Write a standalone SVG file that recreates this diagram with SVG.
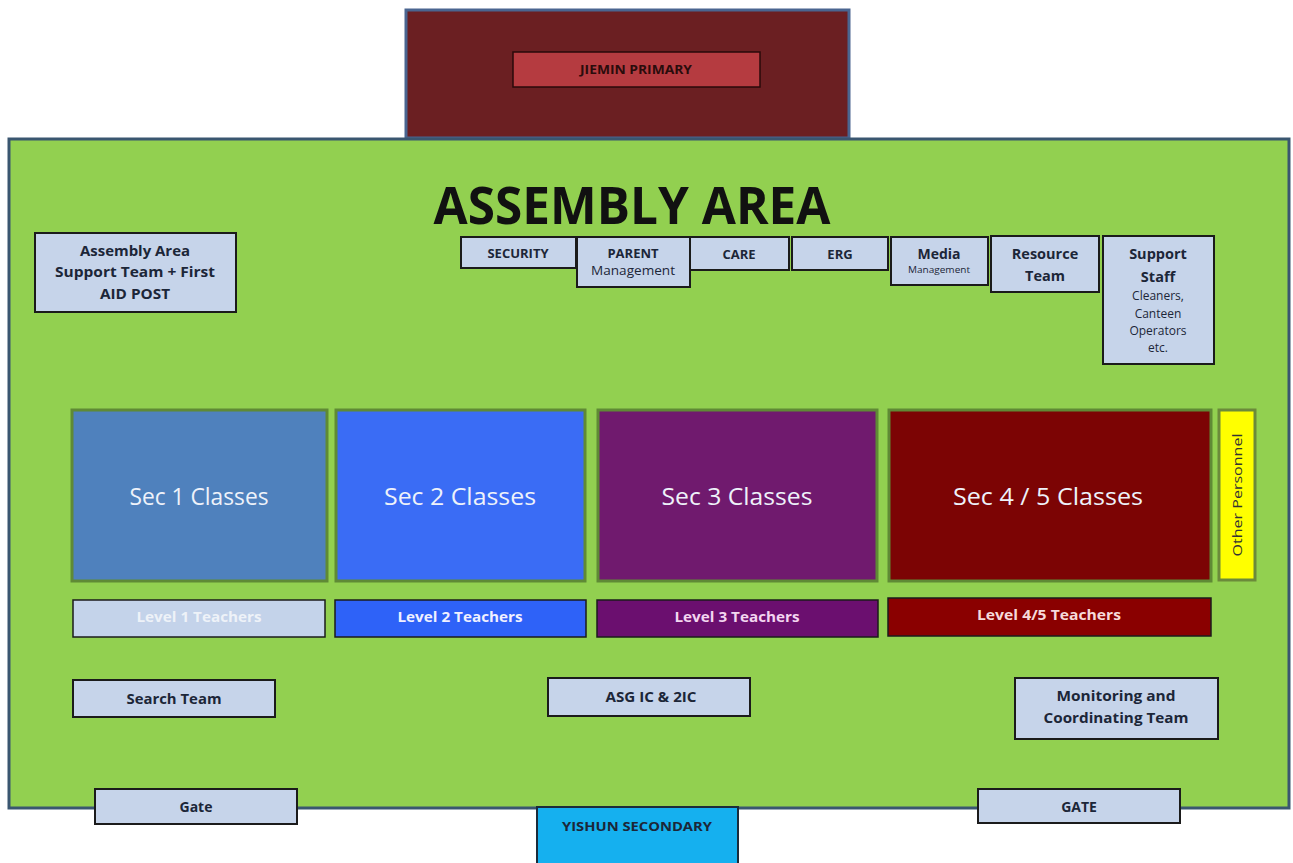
<svg xmlns="http://www.w3.org/2000/svg" width="1293" height="863" viewBox="0 0 1293 863">
<style>
text{font-family:"Open Sans","Noto Sans","Liberation Sans",sans-serif;text-anchor:middle}
.lb{fill:#c6d4ea;stroke:#1b1b1b;stroke-width:2}
.t{fill:#1c2638;font-weight:bold;font-size:13px}
.r{fill:#1c2638;font-size:11px}
.cls{stroke:#5f8a35;stroke-width:3}
.ct{fill:#eef2fa;font-size:23px}
.lv{stroke:#1b1b1b;stroke-width:1.5}
.lt{font-weight:bold;font-size:14px}
</style>
<rect width="1293" height="863" fill="#ffffff"/>
<g id="jiemin">
<rect x="406" y="10" width="443" height="128" fill="#6b1f22" stroke="#4a6590" stroke-width="3"/>
<rect x="513" y="52" width="247" height="35" fill="#b53b40" stroke="#2a0a0a" stroke-width="1.5"/>
<text x="636" y="74" style="font-weight:bold;font-size:12px;fill:#2a0c0c" textLength="112" lengthAdjust="spacingAndGlyphs">JIEMIN PRIMARY</text>
</g>
<g id="assembly-area">
<rect x="9" y="139" width="1280" height="669" fill="#92d050" stroke="#3a5670" stroke-width="3"/>
<text x="632" y="224" style="font-weight:bold;font-size:52px;fill:#111" textLength="397" lengthAdjust="spacingAndGlyphs">ASSEMBLY AREA</text>
</g>
<g id="support-team">
<rect class="lb" x="35" y="233" width="201" height="79"/>
<text class="t" x="135" y="256" style="font-size:14.5px" textLength="110" lengthAdjust="spacingAndGlyphs">Assembly Area</text>
<text class="t" x="135" y="277" style="font-size:14.5px" textLength="160" lengthAdjust="spacingAndGlyphs">Support Team + First</text>
<text class="t" x="135" y="299" style="font-size:14.5px" textLength="70" lengthAdjust="spacingAndGlyphs">AID POST</text>
</g>
<g id="security">
<rect class="lb" x="461" y="237" width="115" height="31"/>
<text class="t" x="518" y="258">SECURITY</text>
</g>
<g id="parent">
<rect class="lb" x="577" y="237" width="113" height="50"/>
<text class="t" x="633" y="258">PARENT</text>
<text class="r" x="633" y="275" style="font-size:12.5px" textLength="84" lengthAdjust="spacingAndGlyphs">Management</text>
</g>
<g id="care">
<rect class="lb" x="690" y="237" width="99" height="33"/>
<text class="t" x="739" y="259">CARE</text>
</g>
<g id="erg">
<rect class="lb" x="792" y="237" width="96" height="33"/>
<text class="t" x="840" y="259">ERG</text>
</g>
<g id="media">
<rect class="lb" x="891" y="237" width="97" height="48"/>
<text class="t" x="939" y="259" style="font-size:14px">Media</text>
<text class="r" x="939" y="273" style="font-size:9.5px" textLength="62" lengthAdjust="spacingAndGlyphs">Management</text>
</g>
<g id="resource">
<rect class="lb" x="991" y="236" width="108" height="56"/>
<text class="t" x="1045" y="259" style="font-size:14.5px">Resource</text>
<text class="t" x="1045" y="281" style="font-size:14.5px">Team</text>
</g>
<g id="support-staff">
<rect class="lb" x="1103" y="236" width="111" height="128"/>
<text class="t" x="1158" y="259" style="font-size:14.5px">Support</text>
<text class="t" x="1158" y="282" style="font-size:14.5px">Staff</text>
<text class="r" x="1158" y="300" style="font-size:12px">Cleaners,</text>
<text class="r" x="1158" y="318" style="font-size:12px">Canteen</text>
<text class="r" x="1158" y="335" style="font-size:12px">Operators</text>
<text class="r" x="1158" y="352" style="font-size:12px">etc.</text>
</g>
<g id="sec1">
<rect class="cls" x="72" y="410" width="255" height="171" fill="#4f81bd"/>
<text class="ct" x="199" y="505" textLength="139" lengthAdjust="spacingAndGlyphs">Sec 1 Classes</text>
</g>
<g id="sec2">
<rect class="cls" x="336" y="410" width="249" height="171" fill="#3a6cf5"/>
<text class="ct" x="460" y="505" textLength="152" lengthAdjust="spacingAndGlyphs">Sec 2 Classes</text>
</g>
<g id="sec3">
<rect class="cls" x="598" y="410" width="279" height="171" fill="#701a6e"/>
<text class="ct" x="737" y="505" textLength="151" lengthAdjust="spacingAndGlyphs">Sec 3 Classes</text>
</g>
<g id="sec45">
<rect class="cls" x="889" y="410" width="322" height="171" fill="#7c0404"/>
<text class="ct" x="1048" y="505" textLength="190" lengthAdjust="spacingAndGlyphs">Sec 4 / 5 Classes</text>
</g>
<g id="other-personnel">
<rect x="1219" y="410" width="36" height="170" fill="#ffff00" stroke="#6b8a3a" stroke-width="3"/>
<text x="0" y="0" transform="translate(1242 495) rotate(-90)" style="font-size:13px;fill:#333" textLength="123" lengthAdjust="spacingAndGlyphs">Other Personnel</text>
</g>
<g id="level1">
<rect class="lv" x="73" y="600" width="252" height="37" fill="#c4d3ea"/>
<text class="lt" x="199" y="622" style="fill:#eef2f8" textLength="125" lengthAdjust="spacingAndGlyphs">Level  1 Teachers</text>
</g>
<g id="level2">
<rect class="lv" x="335" y="600" width="251" height="37" fill="#2e62f8"/>
<text class="lt" x="460" y="622" style="fill:#f0f0ff" textLength="125" lengthAdjust="spacingAndGlyphs">Level  2 Teachers</text>
</g>
<g id="level3">
<rect class="lv" x="597" y="600" width="281" height="37" fill="#6b0f6f"/>
<text class="lt" x="737" y="622" style="fill:#f3d6f0" textLength="125" lengthAdjust="spacingAndGlyphs">Level  3 Teachers</text>
</g>
<g id="level45">
<rect class="lv" x="888" y="598" width="323" height="38" fill="#8a0000"/>
<text class="lt" x="1049" y="620" style="fill:#f6dada" textLength="144" lengthAdjust="spacingAndGlyphs">Level  4/5 Teachers</text>
</g>
<g id="search-team">
<rect class="lb" x="73" y="680" width="202" height="37"/>
<text class="t" x="174" y="704" style="font-size:15px" textLength="95" lengthAdjust="spacingAndGlyphs">Search Team</text>
</g>
<g id="asg">
<rect class="lb" x="548" y="678" width="202" height="38"/>
<text class="t" x="651" y="702" style="font-size:15px" textLength="91" lengthAdjust="spacingAndGlyphs">ASG IC &amp; 2IC</text>
</g>
<g id="monitoring">
<rect class="lb" x="1015" y="678" width="203" height="61"/>
<text class="t" x="1116" y="701" style="font-size:15px" textLength="119" lengthAdjust="spacingAndGlyphs">Monitoring and</text>
<text class="t" x="1116" y="723" style="font-size:15px" textLength="145" lengthAdjust="spacingAndGlyphs">Coordinating Team</text>
</g>
<g id="gate-left">
<rect class="lb" x="95" y="789" width="202" height="35"/>
<text class="t" x="196" y="812" style="font-size:14px">Gate</text>
</g>
<g id="gate-right">
<rect class="lb" x="978" y="789" width="202" height="34"/>
<text class="t" x="1079" y="812" style="font-size:14px">GATE</text>
</g>
<g id="yishun">
<rect x="537" y="807" width="201" height="60" fill="#15b0ef" stroke="#1b2b3b" stroke-width="2"/>
<text class="t" x="637" y="831" style="font-size:13px" textLength="150" lengthAdjust="spacingAndGlyphs">YISHUN SECONDARY</text>
</g>
<g id="connectors"></g>
</svg>
